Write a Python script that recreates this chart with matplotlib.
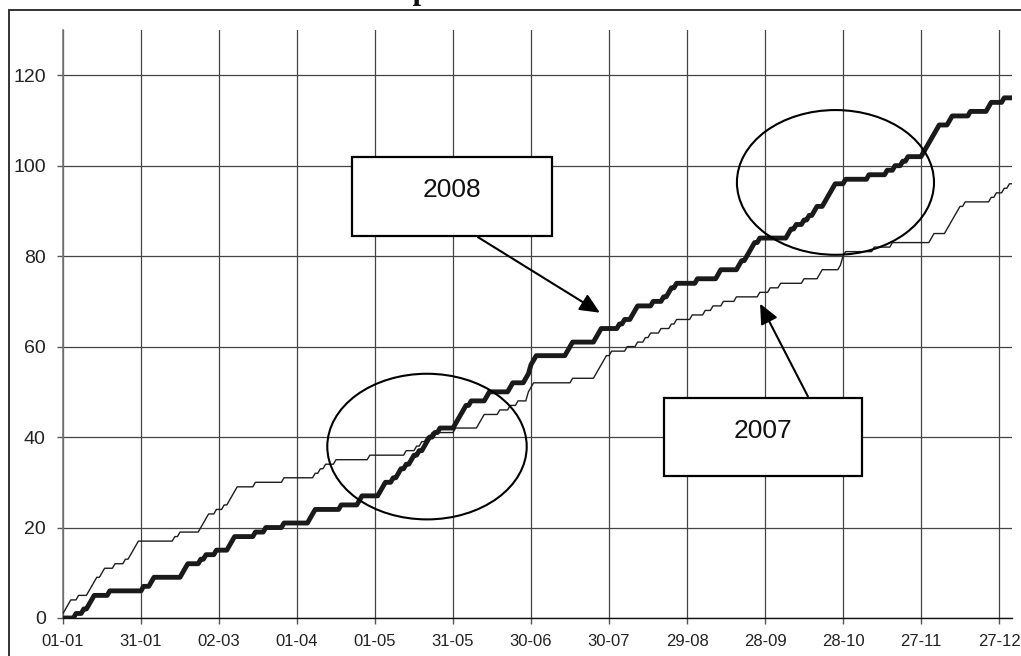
import numpy as np
import matplotlib
matplotlib.use("Agg")
import matplotlib.pyplot as plt
from matplotlib.patches import Rectangle, Ellipse

# ---------------- data ----------------
tick_days = [0, 30, 60, 90, 120, 150, 180, 210, 240, 270, 300, 330, 360]
tick_labels = ["01-01", "31-01", "02-03", "01-04", "01-05", "31-05", "30-06",
               "30-07", "29-08", "28-09", "28-10", "27-11", "27-12"]
y_ticks = [0, 20, 40, 60, 80, 100, 120]

# day of year (0 = 1 January) of each counted event
events_2007 = [0, 1, 2, 3, 6, 10, 11, 12, 13, 15, 16, 20, 24, 26, 27, 28, 29,
               43, 45, 53, 54, 55, 56, 59, 62, 64, 65, 66, 67, 74, 85, 97, 99,
               101, 105, 118, 132, 136, 138, 140, 142, 151, 160, 161, 162, 168,
               172, 175, 179, 179, 180, 181, 196, 205, 206, 207, 208, 209, 211,
               217, 221, 224, 226, 230, 234, 236, 242, 247, 250, 254, 259, 268,
               272, 276, 285, 291, 292, 299, 300, 300, 301, 312, 319, 334, 335,
               340, 341, 342, 343, 344, 345, 347, 357, 359, 362, 364]

events_2008 = [5, 8, 10, 11, 12, 18, 31, 34, 35, 46, 47, 48, 53, 55, 59, 64,
               65, 66, 74, 78, 85, 95, 96, 97, 107, 114, 115, 122, 123, 124,
               127, 129, 130, 132, 134, 135, 137, 139, 140, 141, 143, 145, 151,
               152, 153, 154, 155, 157, 163, 164, 172, 173, 178, 179, 180, 180,
               181, 182, 194, 195, 196, 205, 206, 207, 214, 216, 219, 220, 221,
               227, 231, 233, 234, 236, 244, 252, 253, 260, 261, 263, 264, 265,
               266, 268, 279, 280, 282, 285, 287, 289, 290, 293, 294, 295, 296,
               297, 301, 310, 317, 320, 323, 325, 331, 332, 333, 334, 335, 336,
               337, 341, 342, 349, 356, 357, 362]

days = np.arange(0, 366)
cum_2007 = np.searchsorted(np.sort(events_2007), days, side="right")
cum_2008 = np.searchsorted(np.sort(events_2008), days, side="right")

# ---------------- figure ----------------
W, H = 1021, 656
fig = plt.figure(figsize=(W / 100, H / 100), dpi=100)
fig.patch.set_facecolor("white")

ax = fig.add_axes([63 / W, (H - 618) / H, (1012 - 63) / W, (618 - 30) / H])
ax.set_xlim(0, 365)
ax.set_ylim(0, 130)

ax.set_xticks(tick_days)
ax.set_xticklabels(tick_labels)
ax.set_yticks(y_ticks)
ax.tick_params(axis="x", length=4.5, width=1, color="#555555", pad=7,
               labelsize=12, labelcolor="#222222")
ax.tick_params(axis="y", length=4.5, width=1, color="#555555", pad=8,
               labelsize=14, labelcolor="#222222")
for lab in ax.get_xticklabels() + ax.get_yticklabels():
    lab.set_fontfamily("Liberation Sans")

for s in ["top", "right"]:
    ax.spines[s].set_visible(False)
ax.spines["left"].set_color("#777777")
ax.spines["left"].set_linewidth(1.2)
ax.spines["bottom"].set_color("#111111")
ax.spines["bottom"].set_linewidth(1.0)

ax.grid(True, color="#444444", linewidth=0.9)
ax.set_axisbelow(True)

ax.plot(days, cum_2007, color="#1e1e1e", linewidth=1.0, zorder=3)
ax.plot(days, cum_2008, color="#1a1a1a", linewidth=3.5, zorder=4,
        solid_joinstyle="round", solid_capstyle="round")

# ellipses
ax.add_patch(Ellipse((140, 37.9), 76.7, 32.2, fill=False, edgecolor="black",
                     linewidth=1.5, zorder=5))
ax.add_patch(Ellipse((297.1, 96.3), 75.8, 32.0, fill=False, edgecolor="black",
                     linewidth=1.5, zorder=5))

# arrows
arrow_style = "-|>,head_length=0.55,head_width=0.25"
ax.annotate("", xy=(206.5, 67.5), xytext=(159.6, 84.2),
            arrowprops=dict(arrowstyle=arrow_style, mutation_scale=22,
                            lw=1.5, color="black", shrinkA=0, shrinkB=0),
            zorder=6)
ax.annotate("", xy=(268.1, 69.5), xytext=(286.5, 49.0),
            arrowprops=dict(arrowstyle=arrow_style, mutation_scale=22,
                            lw=1.5, color="black", shrinkA=0, shrinkB=0),
            zorder=6)

# label boxes
ax.add_patch(Rectangle((111.2, 84.5), 76.9, 17.4, facecolor="white",
                       edgecolor="black", linewidth=1.6, zorder=7))
ax.text(149.6, 94.6, "2008", ha="center", va="center", fontsize=19,
        fontfamily="Liberation Sans", color="#111111", zorder=8)
ax.add_patch(Rectangle((231.2, 31.3), 76.1, 17.4, facecolor="white",
                       edgecolor="black", linewidth=1.6, zorder=7))
ax.text(269.2, 41.4, "2007", ha="center", va="center", fontsize=19,
        fontfamily="Liberation Sans", color="#111111", zorder=8)

# outer chart border
fig.patches.append(Rectangle((9 / W, -0.05), 1.2, 1 - 10 / H + 0.05,
                             transform=fig.transFigure, fill=False,
                             edgecolor="#333333", linewidth=1.4))

# title, mostly cut off at the top edge (as in the reference)
fig.text(350 / W, 1 + 1.5 / H, "Comparison", ha="left", va="baseline",
         fontsize=22, fontweight="bold", fontfamily="Liberation Serif",
         color="#111111")

fig.savefig("out.png", dpi=100)
